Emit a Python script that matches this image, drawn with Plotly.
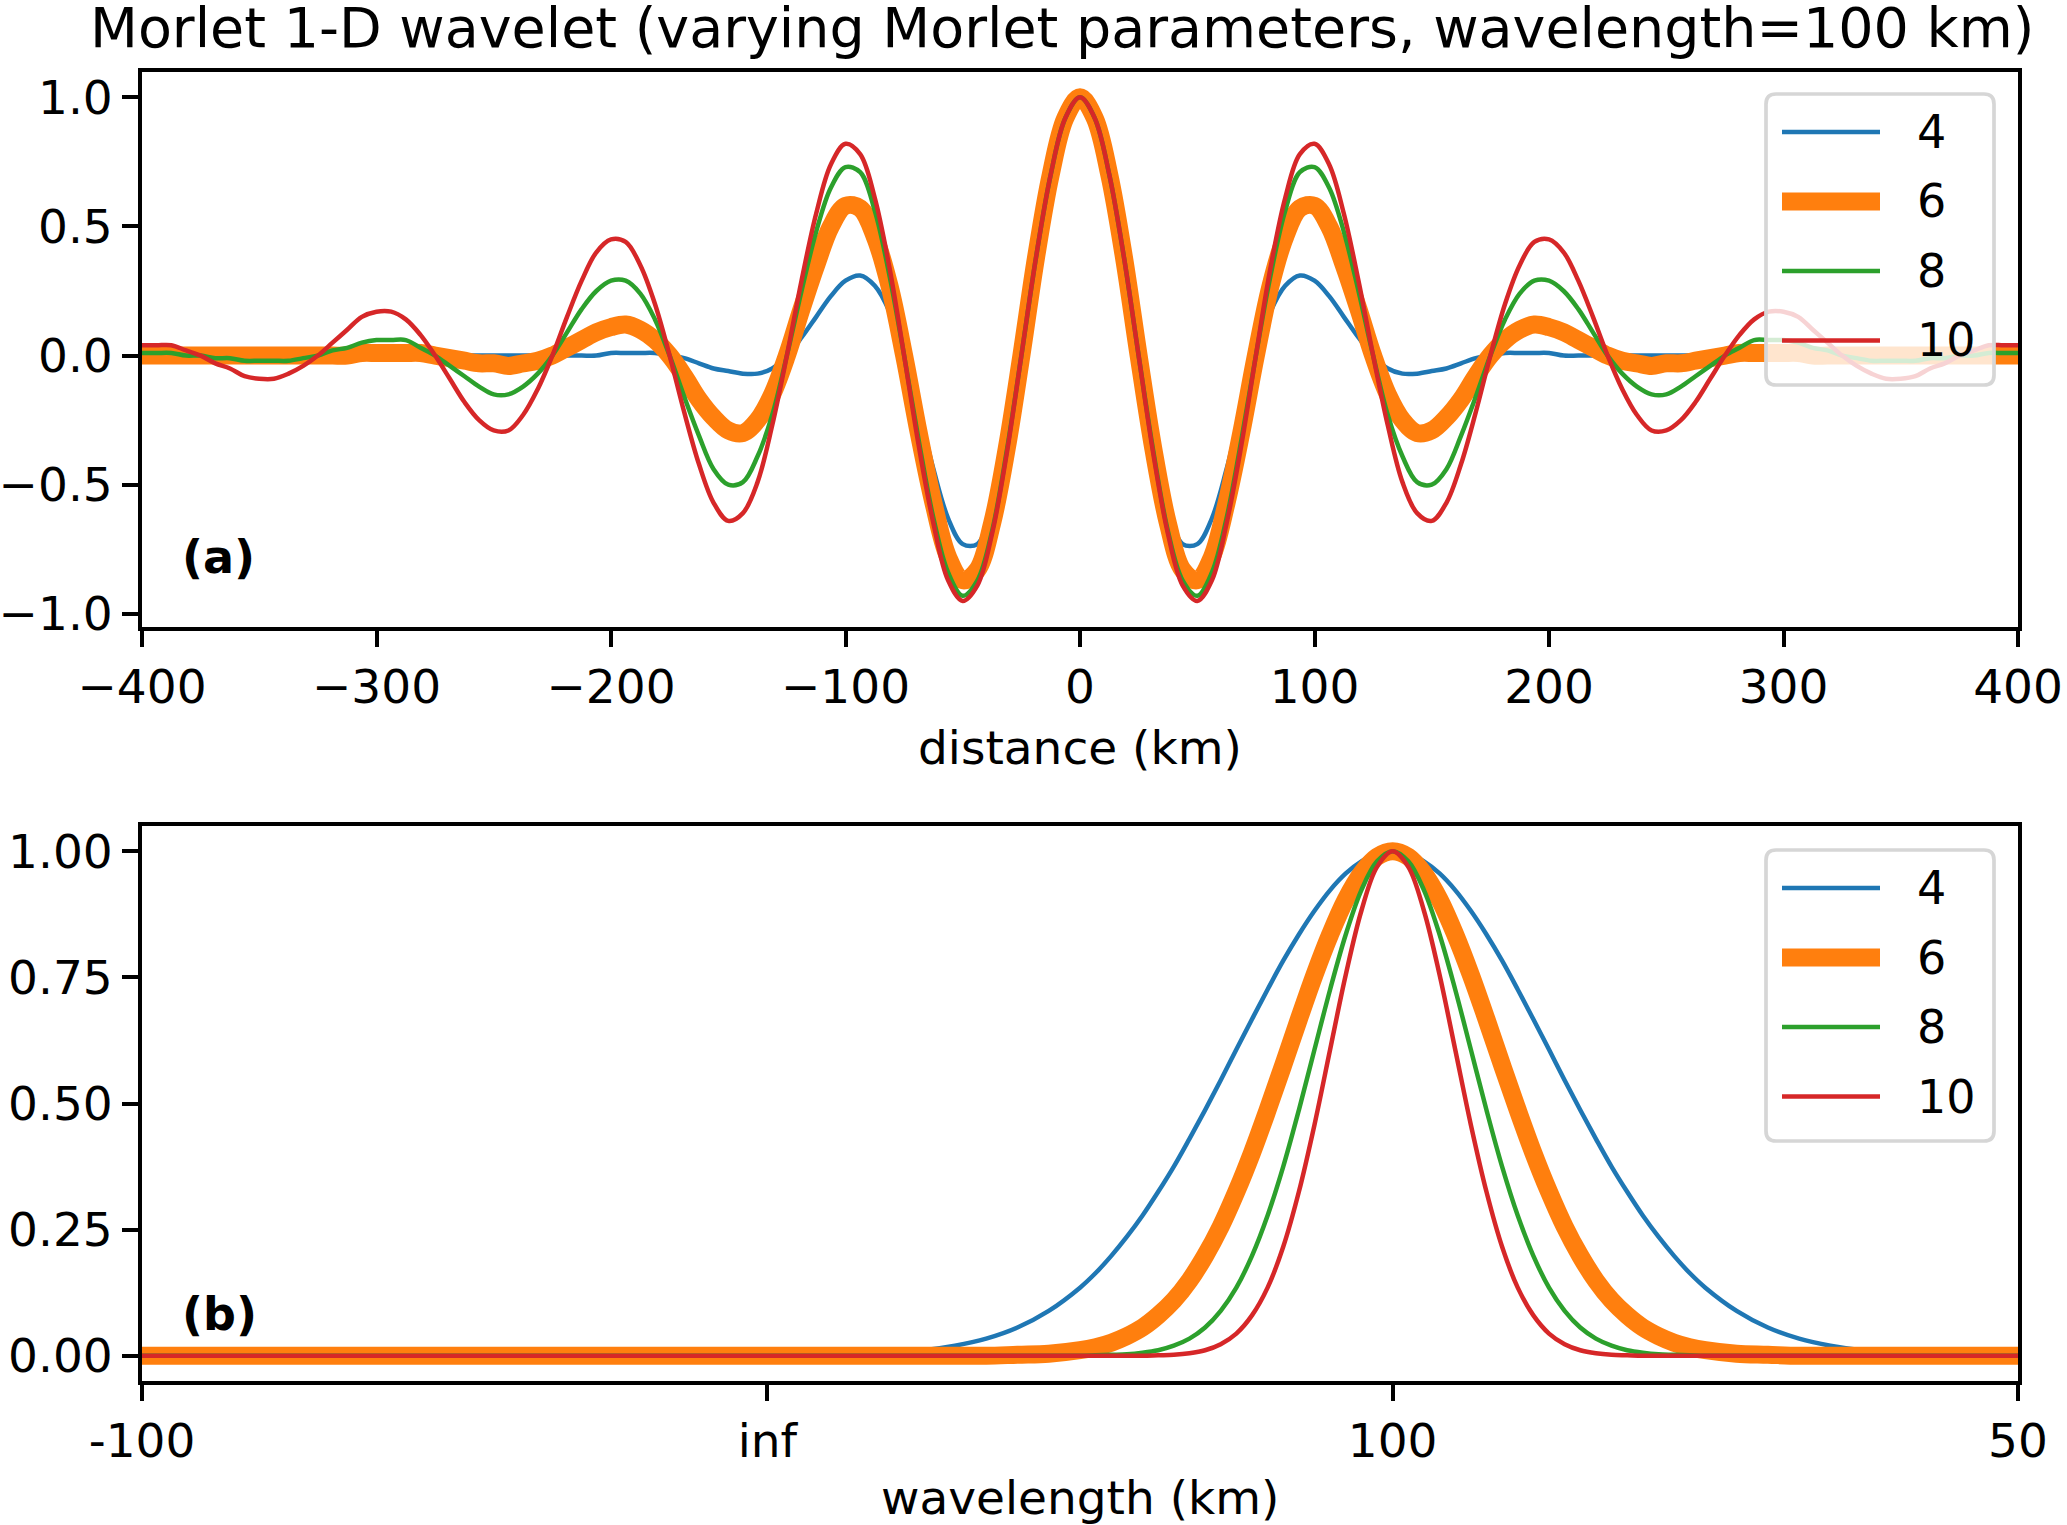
import plotly.graph_objects as go
from plotly.subplots import make_subplots

# morlet parameter of each curve
params = ['4', '6', '8', '10']
colors = ['#1f77b4', '#ff7f0e', '#2ca02c', '#d62728']
widths = [4.5, 18, 4.5, 4.5]

# (a) wavelet vs distance, read every 6.25 km
distance_km = [-400, -393.75, -387.5, -381.25, -375, -368.75, -362.5, -356.25,
               -350, -343.75, -337.5, -331.25, -325, -318.75, -312.5, -306.25,
               -300, -293.75, -287.5, -281.25, -275, -268.75, -262.5, -256.25,
               -250, -243.75, -237.5, -231.25, -225, -218.75, -212.5, -206.25,
               -200, -193.75, -187.5, -181.25, -175, -168.75, -162.5, -156.25,
               -150, -143.75, -137.5, -131.25, -125, -118.75, -112.5, -106.25,
               -100, -93.75, -87.5, -81.25, -75, -68.75, -62.5, -56.25,
               -50, -43.75, -37.5, -31.25, -25, -18.75, -12.5, -6.25,
               0,
               6.25, 12.5, 18.75, 25, 31.25, 37.5, 43.75, 50,
               56.25, 62.5, 68.75, 75, 81.25, 87.5, 93.75, 100,
               106.25, 112.5, 118.75, 125, 131.25, 137.5, 143.75, 150,
               156.25, 162.5, 168.75, 175, 181.25, 187.5, 193.75, 200,
               206.25, 212.5, 218.75, 225, 231.25, 237.5, 243.75, 250,
               256.25, 262.5, 268.75, 275, 281.25, 287.5, 293.75, 300,
               306.25, 312.5, 318.75, 325, 331.25, 337.5, 343.75, 350,
               356.25, 362.5, 368.75, 375, 381.25, 387.5, 393.75, 400]

wave_4 = [0.00, 0.00, 0.00, 0.00, 0.00, 0.00, 0.00, 0.00,
          0.00, 0.00, 0.00, 0.00, 0.00, 0.00, 0.00, 0.00,
          0.00, 0.00, 0.00, 0.00, 0.00, 0.00, 0.00, 0.00,
          0.00, 0.00, 0.00, 0.00, 0.00, 0.00, 0.00, 0.00,
          0.01, 0.01, 0.01, 0.01, 0.00, -0.01, -0.03, -0.05,
          -0.06, -0.07, -0.07, -0.05, 0.00, 0.07, 0.15, 0.23,
          0.29, 0.31, 0.27, 0.17, 0.00, -0.21, -0.44, -0.63,
          -0.73, -0.73, -0.59, -0.34, 0.00, 0.37, 0.69, 0.92,
          1.00,
          0.92, 0.69, 0.37, 0.00, -0.34, -0.59, -0.73, -0.73,
          -0.63, -0.44, -0.21, 0.00, 0.17, 0.27, 0.31, 0.29,
          0.23, 0.15, 0.07, 0.00, -0.05, -0.07, -0.07, -0.06,
          -0.05, -0.03, -0.01, 0.00, 0.01, 0.01, 0.01, 0.01,
          0.00, 0.00, 0.00, 0.00, 0.00, 0.00, 0.00, 0.00,
          0.00, 0.00, 0.00, 0.00, 0.00, 0.00, 0.00, 0.00,
          0.00, 0.00, 0.00, 0.00, 0.00, 0.00, 0.00, 0.00,
          0.00, 0.00, 0.00, 0.00, 0.00, 0.00, 0.00, 0.00]

wave_6 = [0.00, 0.00, 0.00, 0.00, 0.00, 0.00, 0.00, 0.00,
          0.00, 0.00, 0.00, 0.00, 0.00, 0.00, 0.00, 0.01,
          0.01, 0.01, 0.01, 0.01, 0.00, -0.01, -0.02, -0.03,
          -0.03, -0.04, -0.03, -0.02, 0.00, 0.03, 0.06, 0.09,
          0.11, 0.12, 0.10, 0.06, 0.00, -0.08, -0.17, -0.24,
          -0.29, -0.30, -0.25, -0.15, 0.00, 0.18, 0.35, 0.50,
          0.58, 0.57, 0.46, 0.27, 0.00, -0.30, -0.57, -0.78,
          -0.87, -0.83, -0.65, -0.36, 0.00, 0.38, 0.70, 0.92,
          1.00,
          0.92, 0.70, 0.38, 0.00, -0.36, -0.65, -0.83, -0.87,
          -0.78, -0.57, -0.30, 0.00, 0.27, 0.46, 0.57, 0.58,
          0.50, 0.35, 0.18, 0.00, -0.15, -0.25, -0.30, -0.29,
          -0.24, -0.17, -0.08, 0.00, 0.06, 0.10, 0.12, 0.11,
          0.09, 0.06, 0.03, 0.00, -0.02, -0.03, -0.04, -0.03,
          -0.03, -0.02, -0.01, 0.00, 0.01, 0.01, 0.01, 0.01,
          0.01, 0.00, 0.00, 0.00, 0.00, 0.00, 0.00, 0.00,
          0.00, 0.00, 0.00, 0.00, 0.00, 0.00, 0.00, 0.00]

wave_8 = [0.01, 0.01, 0.01, 0.00, 0.00, -0.01, -0.01, -0.02,
          -0.02, -0.02, -0.02, -0.01, 0.00, 0.02, 0.03, 0.05,
          0.06, 0.06, 0.06, 0.03, 0.00, -0.04, -0.08, -0.12,
          -0.15, -0.15, -0.12, -0.07, 0.00, 0.09, 0.18, 0.25,
          0.29, 0.29, 0.24, 0.14, 0.00, -0.16, -0.31, -0.44,
          -0.50, -0.49, -0.39, -0.23, 0.00, 0.25, 0.48, 0.65,
          0.73, 0.71, 0.56, 0.31, 0.00, -0.33, -0.63, -0.84,
          -0.93, -0.87, -0.68, -0.37, 0.00, 0.38, 0.70, 0.92,
          1.00,
          0.92, 0.70, 0.38, 0.00, -0.37, -0.68, -0.87, -0.93,
          -0.84, -0.63, -0.33, 0.00, 0.31, 0.56, 0.71, 0.73,
          0.65, 0.48, 0.25, 0.00, -0.23, -0.39, -0.49, -0.50,
          -0.44, -0.31, -0.16, 0.00, 0.14, 0.24, 0.29, 0.29,
          0.25, 0.18, 0.09, 0.00, -0.07, -0.12, -0.15, -0.15,
          -0.12, -0.08, -0.04, 0.00, 0.03, 0.06, 0.06, 0.06,
          0.05, 0.03, 0.02, 0.00, -0.01, -0.02, -0.02, -0.02,
          -0.02, -0.01, -0.01, 0.00, 0.00, 0.01, 0.01, 0.01]

wave_10 = [0.04, 0.04, 0.04, 0.02, 0.00, -0.03, -0.05, -0.08,
           -0.09, -0.09, -0.07, -0.04, 0.00, 0.05, 0.10, 0.15,
           0.17, 0.17, 0.14, 0.08, 0.00, -0.09, -0.18, -0.25,
           -0.29, -0.29, -0.23, -0.13, 0.00, 0.15, 0.29, 0.40,
           0.45, 0.44, 0.35, 0.20, 0.00, -0.22, -0.42, -0.57,
           -0.64, -0.61, -0.49, -0.27, 0.00, 0.29, 0.55, 0.74,
           0.82, 0.78, 0.61, 0.34, 0.00, -0.35, -0.65, -0.87,
           -0.95, -0.89, -0.69, -0.38, 0.00, 0.38, 0.70, 0.92,
           1.00,
           0.92, 0.70, 0.38, 0.00, -0.38, -0.69, -0.89, -0.95,
           -0.87, -0.65, -0.35, 0.00, 0.34, 0.61, 0.78, 0.82,
           0.74, 0.55, 0.29, 0.00, -0.27, -0.49, -0.61, -0.64,
           -0.57, -0.42, -0.22, 0.00, 0.20, 0.35, 0.44, 0.45,
           0.40, 0.29, 0.15, 0.00, -0.13, -0.23, -0.29, -0.29,
           -0.25, -0.18, -0.09, 0.00, 0.08, 0.14, 0.17, 0.17,
           0.15, 0.10, 0.05, 0.00, -0.04, -0.07, -0.09, -0.09,
           -0.08, -0.05, -0.03, 0.00, 0.02, 0.04, 0.04, 0.04]

# (b) spectrum vs wavenumber (1/km); denser read near the peak
wavenumber = [-0.01, -0.005,
              0.0, 0.0005, 0.001, 0.0015, 0.002, 0.0025, 0.003, 0.0035, 0.004, 0.0045,
              0.005, 0.00525, 0.0055, 0.00575, 0.006, 0.00625, 0.0065, 0.00675,
              0.007, 0.00725, 0.0075, 0.00775, 0.008, 0.00825, 0.0085, 0.00875,
              0.009, 0.00925, 0.0095, 0.00975, 0.01,
              0.01025, 0.0105, 0.01075, 0.011, 0.01125, 0.0115, 0.01175, 0.012,
              0.01225, 0.0125, 0.01275, 0.013, 0.01325, 0.0135, 0.01375, 0.014,
              0.01425, 0.0145, 0.01475, 0.015,
              0.0155, 0.016, 0.0165, 0.017, 0.0175, 0.018, 0.0185, 0.019, 0.0195, 0.02]

spec_4 = [0.0, 0.0,
          0.000, 0.001, 0.002, 0.003, 0.006, 0.011, 0.020, 0.034, 0.056, 0.089,
          0.135, 0.164, 0.198, 0.236, 0.278, 0.325, 0.375, 0.430,
          0.487, 0.546, 0.607, 0.667, 0.726, 0.783, 0.835, 0.882,
          0.923, 0.956, 0.980, 0.995, 1.000,
          0.995, 0.980, 0.956, 0.923, 0.882, 0.835, 0.783, 0.726,
          0.667, 0.607, 0.546, 0.487, 0.430, 0.375, 0.325, 0.278,
          0.236, 0.198, 0.164, 0.135,
          0.089, 0.056, 0.034, 0.020, 0.011, 0.006, 0.003, 0.002, 0.001, 0.000]

spec_6 = [0.0, 0.0,
          0.000, 0.000, 0.000, 0.000, 0.000, 0.000, 0.000, 0.000, 0.002, 0.004,
          0.011, 0.017, 0.026, 0.039, 0.056, 0.080, 0.110, 0.149,
          0.198, 0.256, 0.325, 0.402, 0.487, 0.576, 0.667, 0.755,
          0.835, 0.904, 0.956, 0.989, 1.000,
          0.989, 0.956, 0.904, 0.835, 0.755, 0.667, 0.576, 0.487,
          0.402, 0.325, 0.256, 0.198, 0.149, 0.110, 0.080, 0.056,
          0.039, 0.026, 0.017, 0.011,
          0.004, 0.002, 0.000, 0.000, 0.000, 0.000, 0.000, 0.000, 0.000, 0.000]

spec_8 = [0.0, 0.0,
          0.000, 0.000, 0.000, 0.000, 0.000, 0.000, 0.000, 0.000, 0.000, 0.000,
          0.000, 0.001, 0.002, 0.003, 0.006, 0.011, 0.020, 0.034,
          0.056, 0.089, 0.135, 0.198, 0.278, 0.375, 0.487, 0.607,
          0.726, 0.835, 0.923, 0.980, 1.000,
          0.980, 0.923, 0.835, 0.726, 0.607, 0.487, 0.375, 0.278,
          0.198, 0.135, 0.089, 0.056, 0.034, 0.020, 0.011, 0.006,
          0.003, 0.002, 0.001, 0.000,
          0.000, 0.000, 0.000, 0.000, 0.000, 0.000, 0.000, 0.000, 0.000, 0.000]

spec_10 = [0.0, 0.0,
           0.000, 0.000, 0.000, 0.000, 0.000, 0.000, 0.000, 0.000, 0.000, 0.000,
           0.000, 0.000, 0.000, 0.000, 0.000, 0.001, 0.002, 0.005,
           0.011, 0.023, 0.044, 0.080, 0.135, 0.216, 0.325, 0.458,
           0.607, 0.755, 0.882, 0.969, 1.000,
           0.969, 0.882, 0.755, 0.607, 0.458, 0.325, 0.216, 0.135,
           0.080, 0.044, 0.023, 0.011, 0.005, 0.002, 0.001, 0.000,
           0.000, 0.000, 0.000, 0.000,
           0.000, 0.000, 0.000, 0.000, 0.000, 0.000, 0.000, 0.000, 0.000, 0.000]

dist_ticks = [-400, -300, -200, -100, 0, 100, 200, 300, 400]
dist_labels = ['\u2212400', '\u2212300', '\u2212200', '\u2212100', '0', '100', '200', '300', '400']
wave_y_ticks = [-1.0, -0.5, 0.0, 0.5, 1.0]
wave_y_labels = ['\u22121.0', '\u22120.5', '0.0', '0.5', '1.0']
k_ticks = [-0.01, 0.0, 0.01, 0.02]
k_labels = ['-100', 'inf', '100', '50']
spec_y_ticks = [0.0, 0.25, 0.5, 0.75, 1.0]
spec_y_labels = ['0.00', '0.25', '0.50', '0.75', '1.00']

W, H = 2067, 1525
L, R, T, B = 142, 49, 72, 144
PH = H - T - B
PW = W - L - R


def py(px):
    return (H - B - px) / PH


def pxx(px):
    return (px - L) / PW


fig = make_subplots(rows=2, cols=1, vertical_spacing=0.1)

waves = [wave_4, wave_6, wave_8, wave_10]
specs = [spec_4, spec_6, spec_8, spec_10]
for i in range(4):
    fig.add_trace(go.Scatter(x=distance_km, y=waves[i], mode='lines', name=params[i],
                             line=dict(color=colors[i], width=widths[i], shape='spline',
                                       smoothing=1.0, simplify=False),
                             showlegend=False), row=1, col=1)
for i in range(4):
    fig.add_trace(go.Scatter(x=wavenumber, y=specs[i], mode='lines', name=params[i],
                             line=dict(color=colors[i], width=widths[i], shape='spline',
                                       smoothing=1.0, simplify=False),
                             showlegend=False), row=2, col=1)

axis_style = dict(showline=True, linecolor='black', linewidth=3.7, mirror=True,
                  ticks='outside', ticklen=16, tickwidth=3.7, tickcolor='black',
                  showgrid=False, zeroline=False, automargin=False,
                  tickfont=dict(size=47, color='black'))

fig.update_xaxes(axis_style)
fig.update_yaxes(axis_style)
fig.update_xaxes(range=[-400, 400], tickvals=dist_ticks, ticktext=dist_labels,
                 domain=[0, 1], row=1, col=1)
fig.update_yaxes(range=[-1.051, 1.098], tickvals=wave_y_ticks, ticktext=wave_y_labels,
                 domain=[py(627), py(72)], ticklabelstandoff=0, row=1, col=1)
fig.update_xaxes(range=[-0.01, 0.02], tickvals=k_ticks, ticktext=k_labels,
                 domain=[0, 1], row=2, col=1)
fig.update_yaxes(range=[-0.05, 1.05], tickvals=spec_y_ticks, ticktext=spec_y_labels,
                 domain=[py(1381), py(826)], ticklabelstandoff=0, row=2, col=1)

# hand-made legends (matplotlib look: rounded frame, long line samples)
shapes = []
annotations = []


def rounded_box(x0, y0, x1, y1, r):
    pts = [('M', x0 + r, y0), ('L', x1 - r, y0), ('Q', x1, y0, x1, y0 + r),
           ('L', x1, y1 - r), ('Q', x1, y1, x1 - r, y1), ('L', x0 + r, y1),
           ('Q', x0, y1, x0, y1 - r), ('L', x0, y0 + r), ('Q', x0, y0, x0 + r, y0)]
    out = ''
    for p in pts:
        if p[0] == 'Q':
            out += 'Q%f,%f %f,%f ' % (pxx(p[1]), py(p[2]), pxx(p[3]), py(p[4]))
        else:
            out += '%s%f,%f ' % (p[0], pxx(p[1]), py(p[2]))
    return out + 'Z'


for top in [94, 850]:
    shapes.append(dict(type='path', xref='paper', yref='paper', layer='above',
                       path=rounded_box(1766, top, 1994, top + 291, 10),
                       fillcolor='rgba(255,255,255,0.8)',
                       line=dict(color='#d6d6d6', width=3.7)))
    for i in range(4):
        yc = top + 38 + 69.5 * i
        shapes.append(dict(type='line', xref='paper', yref='paper', layer='above',
                           x0=pxx(1782), x1=pxx(1880), y0=py(yc), y1=py(yc),
                           line=dict(color=colors[i], width=widths[i])))
        annotations.append(dict(text=params[i], x=pxx(1915), y=py(yc), xref='paper', yref='paper',
                                showarrow=False, xanchor='left', yanchor='middle',
                                font=dict(size=46)))

annotations += [
    dict(text='Morlet 1-D wavelet (varying Morlet parameters, wavelength=100 km)',
         x=pxx(1062), y=py(27), xref='paper', yref='paper', showarrow=False,
         xanchor='center', yanchor='middle', font=dict(size=55.5)),
    dict(text='distance (km)', x=0.5, y=py(747), xref='paper', yref='paper',
         showarrow=False, xanchor='center', yanchor='middle', font=dict(size=47)),
    dict(text='wavelength (km)', x=0.5, y=py(1497), xref='paper', yref='paper',
         showarrow=False, xanchor='center', yanchor='middle', font=dict(size=47)),
    dict(text='<b>(a)</b>', x=pxx(180), y=py(557), xref='paper', yref='paper',
         showarrow=False, xanchor='left', yanchor='middle', font=dict(size=46)),
    dict(text='<b>(b)</b>', x=pxx(180), y=py(1314), xref='paper', yref='paper',
         showarrow=False, xanchor='left', yanchor='middle', font=dict(size=46)),
]

fig.update_layout(
    width=W, height=H,
    margin=dict(l=L, r=R, t=T, b=B),
    paper_bgcolor='white', plot_bgcolor='white',
    font=dict(family='DejaVu Sans', color='black'),
    showlegend=False,
    shapes=shapes,
    annotations=annotations,
)

# drop the browser's default page margin so the figure sits at the corner
fig.write_html("out.html", config={'displayModeBar': False},
               post_script="document.body.style.margin = '0px';")
